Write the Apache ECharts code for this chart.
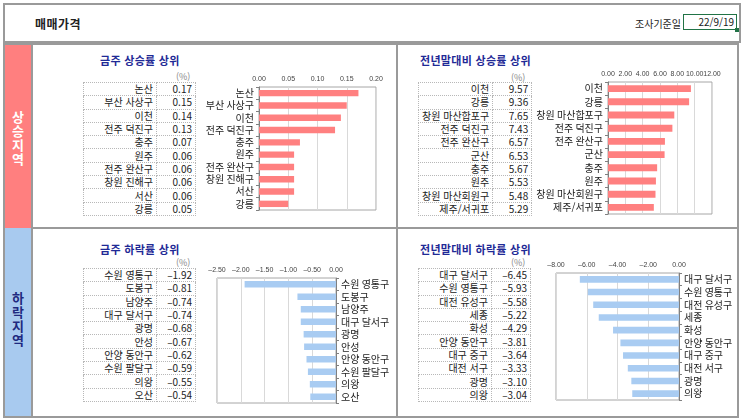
<!DOCTYPE html>
<html lang="ko">
<head>
<meta charset="UTF-8">
<title>매매가격</title>
<script src="https://cdn.jsdelivr.net/npm/echarts@6/dist/echarts.min.js"></script>
<style>
    body { margin: 0; background: #fff; font-family: "Noto Sans CJK KR", sans-serif; }
    #page { position: relative; width: 743px; height: 420px; overflow: hidden; }
    .abs { position: absolute; }
    .box { position: absolute; border: 2px solid #9a9a9a; box-sizing: border-box; }
    .title { position: absolute; font-size: 11px; font-weight: bold; color: #1f2a96; white-space: nowrap; letter-spacing: 0.3px; }
    .unit { position: absolute; font-size: 9px; color: #888; }
    .side { position: absolute; width: 26px; text-align: center; font-size: 13px; font-weight: bold; line-height: 14px; }
    table.t { position: absolute; border-collapse: collapse; font-size: 10px; color: #222; }
    table.t td { border: 1px dotted #b8b8b8; height: 12.3px; padding: 0 3px; text-align: right; line-height: 12px; white-space: nowrap; }
    #chart { position: absolute; left: 0; top: 0; width: 743px; height: 420px; }
</style>
</head>
<body>
<div id="page">
    <!-- 상단 머리 -->
    <div class="box" style="left:3px;top:3px;width:738px;height:40px;"></div>
    <div class="abs" style="left:35px;top:15px;font-size:12px;font-weight:bold;color:#222;letter-spacing:0.5px;">매매가격</div>
    <div class="abs" style="left:635px;top:16px;font-size:10px;color:#222;">조사기준일</div>
    <div class="abs" style="left:683px;top:14px;width:54px;height:16px;border:1px solid #217346;box-sizing:border-box;font-size:10px;text-align:right;line-height:14px;padding-right:2px;color:#222;">22/9/19</div>
    <div class="abs" style="left:735px;top:28px;width:4px;height:4px;background:#217346;"></div>

    <!-- 본문 틀 -->
    <div class="box" style="left:3px;top:43px;width:736px;height:375px;"></div>
    <div class="abs" style="left:5px;top:45px;width:26px;height:183px;background:#ff7f7f;"></div>
    <div class="abs" style="left:5px;top:228px;width:26px;height:188px;background:#a8caef;"></div>
    <div class="abs" style="left:31px;top:44px;width:2px;height:373px;background:#9a9a9a;"></div>
    <div class="abs" style="left:33px;top:227px;width:705px;height:2px;background:#9a9a9a;"></div>
    <div class="abs" style="left:396px;top:44px;width:2px;height:373px;background:#9a9a9a;"></div>
    <div class="side" style="left:5px;top:110px;color:#fff;">상<br>승<br>지<br>역</div>
    <div class="side" style="left:5px;top:291px;color:#1f2a80;">하<br>락<br>지<br>역</div>

    <div class="title" style="left:100px;top:52px;">금주 상승률 상위</div>
    <div class="title" style="left:420px;top:52px;">전년말대비 상승률 상위</div>
    <div class="title" style="left:100px;top:241px;">금주 하락률 상위</div>
    <div class="title" style="left:420px;top:241px;">전년말대비 하락률 상위</div>
    <div class="unit" style="left:176px;top:70px;">(%)</div>
    <div class="unit" style="left:511px;top:71px;">(%)</div>
    <div class="unit" style="left:176px;top:256px;">(%)</div>
    <div class="unit" style="left:511px;top:256px;">(%)</div>

    <table class="t" id="t1" style="left:83px;top:82px;"></table>
    <table class="t" id="t2" style="left:418px;top:82px;"></table>
    <table class="t" id="t3" style="left:83px;top:268px;"></table>
    <table class="t" id="t4" style="left:418px;top:268px;"></table>

    <div id="chart"></div>
</div>

<script>
    // 금주 상승률 상위
    var weekUpNames = ['논산', '부산 사상구', '이천', '전주 덕진구', '충주', '원주', '전주 완산구', '창원 진해구', '서산', '강릉'];
    var weekUpValues = [0.17, 0.15, 0.14, 0.13, 0.07, 0.06, 0.06, 0.06, 0.06, 0.05];
    // 전년말대비 상승률 상위
    var yearUpNames = ['이천', '강릉', '창원 마산합포구', '전주 덕진구', '전주 완산구', '군산', '충주', '원주', '창원 마산회원구', '제주/서귀포'];
    var yearUpValues = [9.57, 9.36, 7.65, 7.43, 6.57, 6.53, 5.67, 5.53, 5.48, 5.29];
    // 금주 하락률 상위
    var weekDownNames = ['수원 영통구', '도봉구', '남양주', '대구 달서구', '광명', '안성', '안양 동안구', '수원 팔달구', '의왕', '오산'];
    var weekDownValues = [-1.92, -0.81, -0.74, -0.74, -0.68, -0.67, -0.62, -0.59, -0.55, -0.54];
    // 전년말대비 하락률 상위
    var yearDownNames = ['대구 달서구', '수원 영통구', '대전 유성구', '세종', '화성', '안양 동안구', '대구 중구', '대전 서구', '광명', '의왕'];
    var yearDownValues = [-6.45, -5.93, -5.58, -5.22, -4.29, -3.81, -3.64, -3.33, -3.10, -3.04];

    function fmt(v) {
        return v.toFixed(2).replace('-', '–');
    }

    function fillTable(id, names, values) {
        var html = '';
        for (var i = 0; i < names.length; i++) {
            html += '<tr><td style="width:66px">' + names[i] + '</td><td style="width:32px">' + fmt(values[i]) + '</td></tr>';
        }
        document.getElementById(id).innerHTML = html;
    }
    fillTable('t1', weekUpNames, weekUpValues);
    fillTable('t2', yearUpNames, yearUpValues);
    fillTable('t3', weekDownNames, weekDownValues);
    fillTable('t4', yearDownNames, yearDownValues);

    var grids = [
        {left: 259, top: 87, width: 117, height: 123},
        {left: 608, top: 82, width: 104, height: 132},
        {left: 217, top: 278, width: 119, height: 125},
        {left: 556, top: 273, width: 123, height: 127}
    ];
    var ranges = [[0, 0.2, 0.05], [0, 12, 2], [-2.5, 0, 0.5], [-8, 0, 2]];
    var names = [weekUpNames, yearUpNames, weekDownNames, yearDownNames];
    var values = [weekUpValues, yearUpValues, weekDownValues, yearDownValues];
    var colors = ['#ff8080', '#ff8080', '#a9ccf2', '#a9ccf2'];

    var option = {
        animation: false,
        grid: [], xAxis: [], yAxis: [], series: []
    };
    for (var k = 0; k < 4; k++) {
        option.grid.push({
            left: grids[k].left, top: grids[k].top, width: grids[k].width, height: grids[k].height,
            show: true, borderColor: '#a6a6a6', borderWidth: 1
        });
        option.xAxis.push({
            type: 'value', gridIndex: k, position: 'top',
            min: ranges[k][0], max: ranges[k][1], interval: ranges[k][2],
            axisLine: {show: false}, axisTick: {show: false},
            axisLabel: {fontSize: 7, color: '#444', fontFamily: 'Liberation Sans', margin: 4,
                formatter: function (v) { return fmt(v); }},
            splitLine: {lineStyle: {color: '#d9d9d9'}}
        });
        option.yAxis.push({
            type: 'category', gridIndex: k, inverse: true, data: names[k],
            position: k < 2 ? 'left' : 'right',
            axisLine: {show: true, lineStyle: {color: '#808080'}},
            axisTick: {show: true, length: 3, lineStyle: {color: '#808080'}},
            axisLabel: {fontSize: 10, color: '#222', margin: 5, interval: 0, fontFamily: 'Noto Sans CJK KR'}
        });
        option.series.push({
            type: 'bar', xAxisIndex: k, yAxisIndex: k, data: values[k],
            barWidth: '52%', itemStyle: {color: colors[k]}
        });
    }

    var myChart = echarts.init(document.getElementById('chart'));
    myChart.setOption(option);
</script>
</body>
</html>
